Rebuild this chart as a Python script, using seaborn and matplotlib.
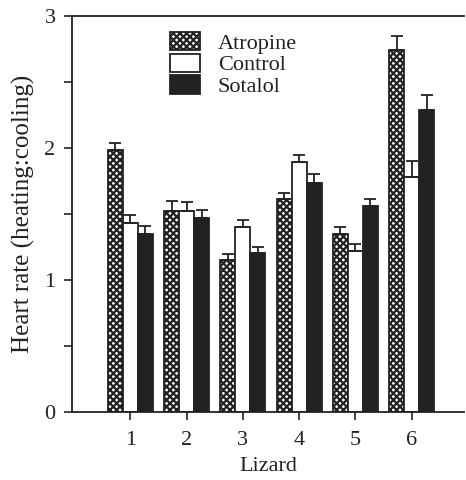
import seaborn as sns
import pandas as pd
import matplotlib.pyplot as plt
from matplotlib.ticker import MultipleLocator

lizards = ['1', '2', '3', '4', '5', '6']
treatments = ['Atropine', 'Control', 'Sotalol']
atropine = [1.98, 1.525, 1.15, 1.61, 1.35, 2.74]
atropine_err = [0.06, 0.075, 0.045, 0.045, 0.05, 0.11]
control = [1.43, 1.52, 1.40, 1.89, 1.22, 1.78]
control_err = [0.06, 0.07, 0.05, 0.055, 0.05, 0.12]
sotalol = [1.35, 1.465, 1.20, 1.735, 1.56, 2.29]
sotalol_err = [0.06, 0.065, 0.05, 0.065, 0.05, 0.11]

df = pd.DataFrame({
    'Lizard': lizards * 3,
    'Treatment': sum([[t] * 6 for t in treatments], []),
    'Rate': atropine + control + sotalol,
    'Err': atropine_err + control_err + sotalol_err,
})

sns.set_style("ticks")
plt.rcParams['font.family'] = ['Liberation Serif', 'DejaVu Serif']
plt.rcParams['hatch.linewidth'] = 1.6

fig = plt.figure(figsize=(4.66, 4.8), dpi=100)
ax = fig.add_axes([0.155, 0.142, 0.841, 0.825])

colors = {'Atropine': '#222222', 'Control': 'white', 'Sotalol': '#222222'}
sns.barplot(data=df, x='Lizard', y='Rate', hue='Treatment', order=lizards,
            hue_order=treatments, palette=colors, errorbar=None, width=0.8,
            edgecolor='#222222', linewidth=1.3, saturation=1, ax=ax)


def dotted(patch):
    # dark fill with a light dot pattern
    if hasattr(patch, 'set_hatchcolor'):
        patch.set_hatch('xxxx')
        patch.set_hatchcolor('white')
    else:
        patch.set_facecolor('white')
        patch.set_hatch('xxxxx')


for bar in ax.containers[0]:
    dotted(bar)

# upward-only error bars from the drawn bars
for cont, errs in zip(ax.containers, [atropine_err, control_err, sotalol_err]):
    for bar, e in zip(cont, errs):
        xc = bar.get_x() + bar.get_width() / 2
        h = bar.get_height()
        ax.errorbar(xc, h, yerr=[[0], [e]], fmt='none', ecolor='#222222',
                    elinewidth=1.3, capsize=4, capthick=1.3)

ax.set_ylim(0, 3)
ax.set_xlim(-1.03, 5.93)
ax.yaxis.set_major_locator(MultipleLocator(1))
ax.yaxis.set_minor_locator(MultipleLocator(0.5))
ax.tick_params(axis='both', which='both', direction='out', length=6,
               width=1.2, labelsize=16, colors='#222222')
ax.tick_params(axis='y', which='major', pad=6)
ax.tick_params(axis='x', which='major', pad=8)
for s in ['left', 'bottom', 'top']:
    ax.spines[s].set_linewidth(1.3)
    ax.spines[s].set_color('#222222')
ax.spines['right'].set_visible(False)

ax.set_xlabel('Lizard', fontsize=16, color='#222222', labelpad=5)
ax.set_ylabel('Heart rate (heating:cooling)', fontsize=18, color='#222222',
              labelpad=7)

leg = ax.legend(loc='upper left', bbox_to_anchor=(0.25, 0.96), frameon=False,
                fontsize=16, handlelength=1.35, handleheight=0.9,
                labelspacing=0, handletextpad=0.8, borderaxespad=0,
                borderpad=0)
dotted(leg.legend_handles[0])
for txt in leg.get_texts():
    txt.set_color('#222222')

fig.savefig('out.png', dpi=100)
